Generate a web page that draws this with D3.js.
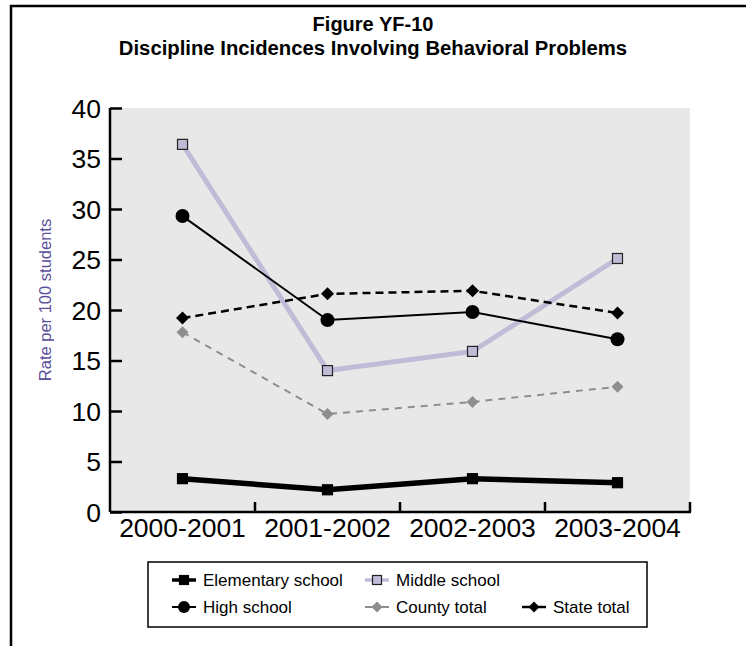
<!DOCTYPE html>
<html>
<head>
<meta charset="utf-8">
<script src="https://cdn.jsdelivr.net/npm/d3@7"></script>
<style>
  body { margin: 0; background: #fff; }
  text { font-family: "Liberation Sans", Arial, sans-serif; }
</style>
</head>
<body>
<div id="chart"></div>
<script>
var categories = ['2000-2001', '2001-2002', '2002-2003', '2003-2004'];
var elementary = [3.3, 2.2, 3.3, 2.9];
var middle = [36.4, 14.0, 15.9, 25.1];
var high = [29.3, 19.0, 19.8, 17.1];
var county = [17.8, 9.7, 10.9, 12.4];
var state = [19.2, 21.6, 21.9, 19.7];
var yTicks = [0, 5, 10, 15, 20, 25, 30, 35, 40];

var width = 746;
var height = 646;
var plotLeft = 110, plotRight = 690, plotTop = 108, plotBottom = 512;

var svg = d3.select('#chart').append('svg')
    .attr('width', width)
    .attr('height', height);

// outer frame, runs off the right and bottom edge
svg.append('rect')
    .attr('x', 11).attr('y', 6)
    .attr('width', 760).attr('height', 700)
    .attr('fill', 'none')
    .attr('stroke', '#000')
    .attr('stroke-width', 2.5);

svg.append('text')
    .attr('x', 373).attr('y', 31)
    .attr('text-anchor', 'middle')
    .style('font-size', '20px').style('font-weight', 'bold')
    .text('Figure YF-10');
svg.append('text')
    .attr('x', 373).attr('y', 55)
    .attr('text-anchor', 'middle')
    .style('font-size', '20.3px').style('font-weight', 'bold')
    .text('Discipline Incidences Involving Behavioral Problems');

var x = d3.scaleBand().domain(categories).range([plotLeft, plotRight]);
var y = d3.scaleLinear().domain([0, 40]).range([plotBottom, plotTop]);
var cx = d => x(d) + x.bandwidth() / 2;

svg.append('rect')
    .attr('x', plotLeft).attr('y', plotTop)
    .attr('width', plotRight - plotLeft).attr('height', plotBottom - plotTop)
    .attr('fill', '#e8e8e8');

// y axis
var yAxis = svg.append('g')
    .attr('transform', `translate(${plotLeft},0)`)
    .call(d3.axisRight(y).tickValues(yTicks).tickSize(12).tickFormat(''));
yAxis.selectAll('line, path').attr('stroke', '#000').attr('stroke-width', 2.5);
yAxis.select('.domain').attr('d', `M0,${plotTop}V${plotBottom}`);
svg.selectAll('.ylab').data(yTicks).enter().append('text')
    .attr('class', 'ylab')
    .attr('x', 101).attr('y', d => y(d))
    .attr('dy', '0.36em')
    .attr('text-anchor', 'end')
    .style('font-size', '26.5px')
    .text(d => d);

// x axis, ticks on band edges pointing up
var xAxis = svg.append('g')
    .attr('transform', `translate(0,${plotBottom})`);
xAxis.append('line')
    .attr('x1', plotLeft).attr('x2', plotRight + 1)
    .attr('stroke', '#000').attr('stroke-width', 2.5);
xAxis.selectAll('.xt').data(categories).enter().append('line')
    .attr('x1', d => x(d) + x.bandwidth()).attr('x2', d => x(d) + x.bandwidth())
    .attr('y1', 0).attr('y2', -10)
    .attr('stroke', '#000').attr('stroke-width', 2.5);
xAxis.selectAll('.xlab').data(categories).enter().append('text')
    .attr('x', cx).attr('y', 25)
    .attr('text-anchor', 'middle')
    .style('font-size', '26.5px')
    .text(d => d);

svg.append('text')
    .attr('transform', `translate(51,300)rotate(-90)`)
    .attr('text-anchor', 'middle')
    .style('font-size', '16.5px')
    .attr('fill', '#5b4f9c')
    .text('Rate per 100 students');

var series = [
    {name: 'Middle school', values: middle, color: '#c0bcd8', width: 5, dash: null, marker: 'square', mfill: '#c0bcd8', mstroke: '#222', size: 10},
    {name: 'Elementary school', values: elementary, color: '#000', width: 5.5, dash: null, marker: 'square', mfill: '#000', mstroke: '#000', size: 10},
    {name: 'High school', values: high, color: '#000', width: 2, dash: null, marker: 'circle', mfill: '#000', mstroke: '#000', size: 7},
    {name: 'County total', values: county, color: '#8e8e8e', width: 2, dash: '7,6', marker: 'diamond', mfill: '#8e8e8e', mstroke: '#8e8e8e', size: 6},
    {name: 'State total', values: state, color: '#000', width: 2.5, dash: '8,5', marker: 'diamond', mfill: '#000', mstroke: '#000', size: 6.5}
];

var line = d3.line().x((d, i) => cx(categories[i])).y(d => y(d));

function drawMarker(g, s, px, py) {
    if (s.marker == 'square') {
        g.append('rect')
            .attr('x', px - s.size / 2).attr('y', py - s.size / 2)
            .attr('width', s.size).attr('height', s.size)
            .attr('fill', s.mfill).attr('stroke', s.mstroke).attr('stroke-width', 1.2);
    } else if (s.marker == 'circle') {
        g.append('circle')
            .attr('cx', px).attr('cy', py).attr('r', s.size)
            .attr('fill', s.mfill);
    } else {
        var r = s.size;
        g.append('path')
            .attr('d', `M${px},${py - r}L${px + r},${py}L${px},${py + r}L${px - r},${py}Z`)
            .attr('fill', s.mfill);
    }
}

series.forEach(s => {
    var g = svg.append('g');
    g.append('path')
        .attr('d', line(s.values))
        .attr('fill', 'none')
        .attr('stroke', s.color)
        .attr('stroke-width', s.width)
        .attr('stroke-dasharray', s.dash);
    s.values.forEach((v, i) => drawMarker(g, s, cx(categories[i]), y(v)));
});

// legend
var legend = svg.append('g');
legend.append('rect')
    .attr('x', 148).attr('y', 562)
    .attr('width', 499).attr('height', 65)
    .attr('fill', '#fff').attr('stroke', '#000').attr('stroke-width', 1.5);

var legendPos = {
    'Elementary school': [184, 580],
    'Middle school': [377, 580],
    'High school': [184, 607],
    'County total': [377, 607],
    'State total': [534, 607]
};
series.forEach(s => {
    var p = legendPos[s.name];
    var lg = legend.append('g');
    lg.append('line')
        .attr('x1', p[0] - 12).attr('x2', p[0] + 12)
        .attr('y1', p[1]).attr('y2', p[1])
        .attr('stroke', s.color)
        .attr('stroke-width', Math.min(s.width, 3.5));
    var ms = Object.assign({}, s, {size: s.marker == 'circle' ? 6 : s.marker == 'square' ? 9 : 5.5});
    drawMarker(lg, ms, p[0], p[1]);
    lg.append('text')
        .attr('x', p[0] + 19).attr('y', p[1])
        .attr('dy', '0.36em')
        .style('font-size', '17px')
        .text(s.name);
});
</script>
</body>
</html>
